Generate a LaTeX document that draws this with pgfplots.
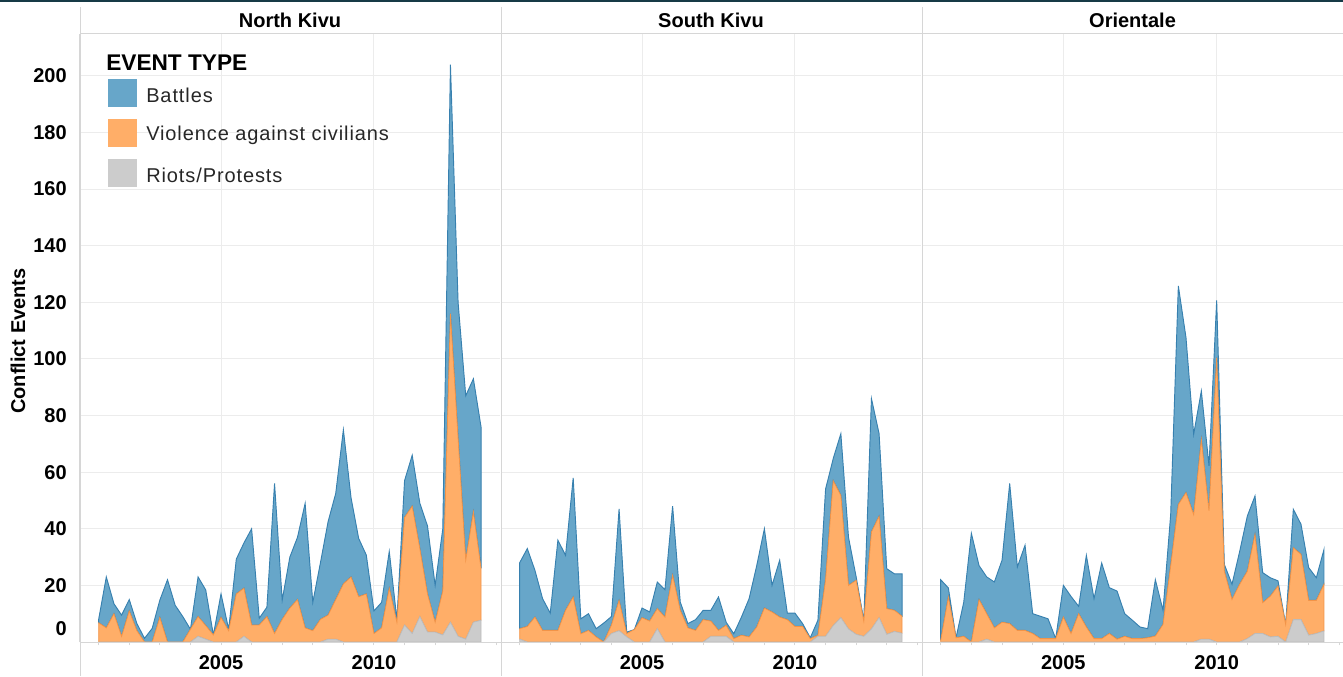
\documentclass[border=0pt]{standalone}
\usepackage{fontspec}
\setmainfont{Liberation Sans}
\newfontfamily\legfont[LetterSpace=4.5]{Liberation Sans}
\usepackage{pgfplots}
\usepackage{pgfplotstable}
\pgfplotsset{compat=1.18}
\definecolor{bfill}{RGB}{103,166,201}
\definecolor{bedge}{RGB}{55,128,175}
\definecolor{vfill}{RGB}{255,174,104}
\definecolor{vedge}{RGB}{242,148,72}
\definecolor{rfill}{RGB}{204,204,204}
\definecolor{redge}{RGB}{188,188,188}
\definecolor{gridc}{RGB}{236,236,236}
\definecolor{linec}{RGB}{214,214,214}
\definecolor{topbar}{RGB}{22,58,70}

% columns: quarter, Battles, Violence against civilians, Riots/Protests
\pgfplotstableread{
x B V R
2001.00 1.2 6.8 0
2001.25 18 5 0
2001.50 3.5 10 0
2001.75 7.5 2 0
2002.00 4 11 0
2002.25 2.5 4 0
2002.50 1.3 0 0
2002.75 4.8 0 0
2003.00 6.1 8.7 0
2003.25 22 0 0
2003.50 13 0 0
2003.75 9 0 0
2004.00 0 4.5 0
2004.25 14 7 2
2004.50 12.6 4.8 1
2004.75 0 2.5 0
2005.00 8.3 8.7 0
2005.25 0.5 4 0
2005.50 12.3 17 0
2005.75 16 17 2
2006.00 34 6 0
2006.25 2.4 6 0
2006.50 3.3 9 0
2006.75 53 3 0
2007.00 6.8 8 0
2007.25 18 12 0
2007.50 22 15 0
2007.75 44 5 0
2008.00 10 4 0
2008.25 20 8 0
2008.50 33 8.5 1
2008.75 37.5 14 1
2009.00 54.5 20.5 0
2009.25 28 23 0
2009.50 20.6 16 0
2009.75 13.7 17 0
2010.00 8 3 0
2010.25 9 5 0
2010.50 13 19 0
2010.75 1 7 0
2011.00 13 38 6
2011.25 18 45 3
2011.50 16 24 9
2011.75 24 13.5 3.5
2012.00 13 3.5 3.5
2012.25 22 15.5 2.5
2012.50 88 109 7
2012.75 48 70 2
2013.00 58 28 1
2013.25 47 39 7
2013.50 50 18.3 7.7
}\nk

\pgfplotstableread{
x B V R
2001.00 23.3 3.7 1
2001.25 27.5 5.5 0
2001.50 16.5 8.8 0
2001.75 11.2 4.1 0
2002.00 6.1 4.1 0
2002.25 31.9 4.1 0
2002.50 19.4 11.2 0
2002.75 42.1 15.9 0
2003.00 5.3 2.9 0
2003.25 5.9 4.1 0
2003.50 2.9 1.8 0
2003.75 6.7 0 0
2004.00 3 3 3
2004.25 32.3 10.7 4
2004.50 0.5 1.2 1.8
2004.75 0 4.4 0
2005.00 3.4 8.6 0
2005.25 3.2 7.4 0
2005.50 9.4 7.1 4.7
2005.75 9.7 8.8 0
2006.00 24.4 23.6 0
2006.25 2.9 11.2 0
2006.50 1.5 5 0
2006.75 3.8 4.1 0
2007.00 3.3 7.9 0
2007.25 3.8 5.4 2
2007.50 11.8 2.1 2
2007.75 1.1 3.9 2
2008.00 1.7 1.2 0
2008.25 6.4 2.4 0
2008.50 13.5 1.8 0
2008.75 21.7 5.3 0
2009.00 28 12 0
2009.25 9.4 10.6 0
2009.50 20.1 8.8 0
2009.75 2.3 7.9 0
2010.00 4.7 5.5 0
2010.25 1 5.5 0
2010.50 0.3 1.2 0
2010.75 5.3 0.4 2
2011.00 32 20 2
2011.25 7.8 51.2 5.8
2011.50 21.8 43.2 8.6
2011.75 17 15.4 4.6
2012.00 1.2 19.1 2.7
2012.25 0.3 5.4 2
2012.50 47.1 34.3 4.6
2012.75 29.2 35.8 8.6
2013.00 14.1 9.1 2.7
2013.25 12.9 7.5 3.7
2013.50 15 6 3.1
}\sk

\pgfplotstableread{
x B V R
2001.00 21.4 0.6 0
2001.25 3.2 15.9 0
2001.50 0 1.5 0
2001.75 12 2 0
2002.00 38.4 0 0
2002.25 12 15 0
2002.50 13 9 1
2002.75 16.2 5 0
2003.00 21.9 7 0
2003.25 49.5 6.5 0
2003.50 22.4 4.1 0
2003.75 30.1 4.1 0
2004.00 7 3 0
2004.25 7.9 1.2 0
2004.50 7 1.2 0
2004.75 0 1.2 0
2005.00 11.2 8.8 0
2005.25 13.1 3 0
2005.50 2.6 10 0
2005.75 25.3 5.3 0
2006.00 14.1 1.2 0
2006.25 26.7 1.2 0
2006.50 16.2 3 0
2006.75 17 1 0
2007.00 8 2 0
2007.25 6.5 1.2 0
2007.50 4.1 1.2 0
2007.75 3.2 1.5 0
2008.00 19.9 2.1 0
2008.25 5 6.2 0
2008.50 18 27 0
2008.75 77.2 48.6 0
2009.00 54.7 52.8 0
2009.25 28.4 45 0
2009.50 17.1 70.6 1
2009.75 15.9 45.3 1
2010.00 20.2 100.5 0
2010.25 2.4 25 0
2010.50 5.4 15 0
2010.75 11.6 20.4 0
2011.00 19.5 23.8 1.2
2011.25 13.6 35 3
2011.50 10.6 10.9 3
2011.75 6.5 14.4 1.8
2012.00 1.8 17.8 2
2012.25 0 6.2 0
2012.50 13.6 25.4 7.9
2012.75 10.6 23.1 7.9
2013.00 11.6 12.3 2.4
2013.25 8 11.7 3
2013.50 12.3 16.5 3.9
}\orr

\pgfplotsset{panel/.style={
  scale only axis, width=315pt, height=456pt,
  xmin=2000.39, xmax=2014.12, ymin=0, ymax=214.8,
  stack plots=y,
  axis x line*=bottom, axis y line*=left,
  axis line style={linec, line width=0.75pt},
  xtick={2005,2010}, xticklabels={2005,2010},
  minor xtick={2001,2002,2003,2004,2006,2007,2008,2009,2011,2012,2013,2014},
  xmajorgrids, ymajorgrids,
  grid style={gridc, line width=0.75pt},
  ytick={20,40,60,80,100,120,140,160,180,200},
  tick align=outside,
  major tick length=2.5pt, minor tick length=2.5pt,
  xtick style={linec, line width=0.75pt}, ytick style={draw=none},
  /pgf/number format/assume math mode=true,
  tick label style={font=\bfseries\fontsize{15}{18}\selectfont, text=black},
  xticklabel style={yshift=-4pt},
  yticklabel style={xshift=-4pt},
}}

\newcommand{\stackareas}[1]{%
  \addplot[fill=rfill, draw=redge, line width=0.6pt] table[x=x, y=R]{#1} \closedcycle;
  \addplot[fill=vfill, draw=vedge, line width=0.6pt] table[x=x, y=V]{#1} \closedcycle;
  \addplot[fill=bfill, draw=bedge, line width=0.7pt] table[x=x, y=B]{#1} \closedcycle;
}

\begin{document}
\begin{tikzpicture}
\useasboundingbox (0,0) rectangle (1007.25pt,507pt);
\fill[topbar] (0,505.2pt) rectangle (1007.25pt,507pt);

% North Kivu
\begin{axis}[panel, at={(60pt,25.5pt)}, anchor=south west,
  extra y ticks={0}, extra y tick style={yticklabel style={yshift=9.75pt}}]
\stackareas{\nk}
\end{axis}

% South Kivu
\begin{axis}[panel, at={(375.75pt,25.5pt)}, anchor=south west, yticklabels={}]
\stackareas{\sk}
\end{axis}

% Orientale
\begin{axis}[panel, at={(691.5pt,25.5pt)}, anchor=south west, width=315.75pt, yticklabels={}]
\stackareas{\orr}
\end{axis}

% frame lines and headers
\draw[linec, line width=0.75pt] (60pt,481.5pt) -- (1007.25pt,481.5pt);
\foreach \xx in {60pt,375.75pt,691.5pt}
  \draw[linec, line width=0.75pt] (\xx,0) -- (\xx,501.75pt);
\draw[linec, line width=0.75pt] (60pt,25.5pt) -- (1007.25pt,25.5pt);

\node[font=\bfseries\fontsize{15}{18}\selectfont] at (217.5pt,492pt) {North Kivu};
\node[font=\bfseries\fontsize{15}{18}\selectfont] at (533.25pt,492pt) {South Kivu};
\node[font=\bfseries\fontsize{15}{18}\selectfont] at (849.4pt,492pt) {Orientale};

\node[font=\bfseries\fontsize{15}{18}\selectfont, rotate=90] at (13.5pt,251.25pt) {Conflict Events};

% legend
\node[anchor=west, inner sep=0pt, font=\bfseries\fontsize{17}{20}\selectfont] at (79.5pt,460pt) {EVENT TYPE};
\fill[bfill] (81.2pt,426.5pt) rectangle (103pt,447.5pt);
\fill[vfill] (81.2pt,396.5pt) rectangle (103pt,417.5pt);
\fill[rfill] (81.2pt,366.5pt) rectangle (103pt,387.5pt);
\node[anchor=west, inner sep=0pt, text=black!85, font=\legfont\fontsize{15}{18}\selectfont] at (109.5pt,435.2pt) {Battles};
\node[anchor=west, inner sep=0pt, text=black!85, font=\legfont\fontsize{15}{18}\selectfont] at (109.5pt,405.2pt) {Violence against civilians};
\node[anchor=west, inner sep=0pt, text=black!85, font=\legfont\fontsize{15}{18}\selectfont] at (109.5pt,375.2pt) {Riots/Protests};
\end{tikzpicture}
\end{document}
